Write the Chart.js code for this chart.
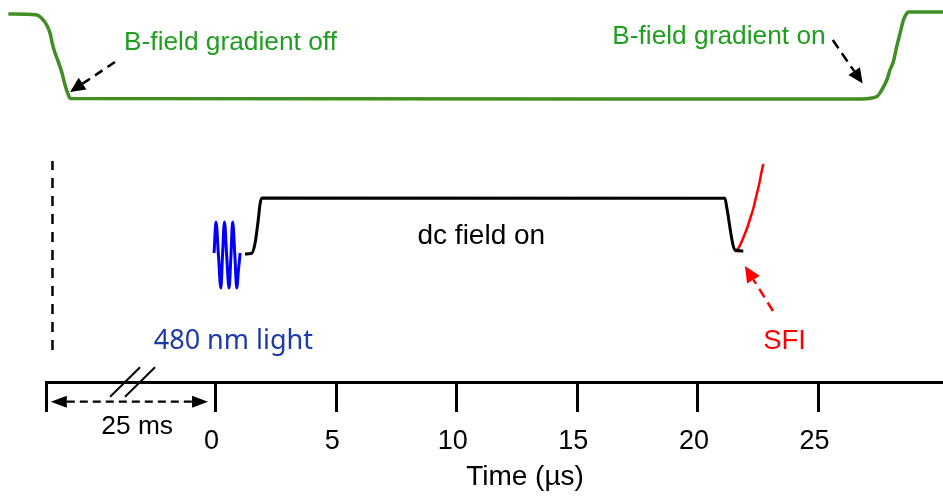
<!DOCTYPE html>
<html><head><meta charset="utf-8">
<script src="https://cdn.jsdelivr.net/npm/chart.js@4/dist/chart.umd.min.js"></script>
<style>html,body{margin:0;padding:0;background:#fff}#wrap{width:943px;height:501px;position:relative}</style>
</head><body><div id="wrap"><canvas id="c"></canvas></div>
<script>
// ---- data (time in µs, level in arbitrary units) ----
const tickValues = [-7, 0, 5, 10, 15, 20, 25];
const tickLabels = ['', '0', '5', '10', '15', '20', '25'];
const axisMin = -7, axisMax = 30.16;

const gradientTime  = [-8.59,-7.41,-7.21,-7.00,-6.86,-6.77,-6.65,-6.52,-6.38,-6.24,-6.10,-6.03,26.79,27.41,27.62,27.83,27.96,28.10,28.24,28.38,28.52,28.66,28.72,30.16];
const gradientLevel = [368,367,363.7,357,348.7,338.7,328.7,320.3,310.3,297,287,283.5,283,285.3,292,302,312,320.3,335.3,348.7,362,368.7,370,370];

const lightTime  = [-0.06,0.02,0.12,0.22,0.29,0.37,0.46,0.56,0.64,0.71,0.80,0.88,0.95,1.02];
const lightLevel = [129,160,127,94,127,160,127,94,127,160,127,94,112,129];

const dcTime  = [1.22,1.50,1.64,1.77,1.85,1.92,21.12,21.19,21.26,21.33,21.40,21.47,21.54,21.88];
const dcLevel = [128,128.7,139,162,178.7,184,183.7,175.3,165.3,153.7,143.7,135.3,132,131];

const sfiTime  = [21.54,21.66,21.79,21.91,22.04,22.16,22.29,22.41,22.54,22.62,22.71];
const sfiLevel = [130,133,139,146,154,163,173,185,198,208,218];

const markerTime  = [-6.76,-6.76];
const markerLevel = [32,221];

const zip = (xs, ys) => xs.map((x, i) => ({x, y: ys[i]}));

// ---- annotations (data coordinates) ----
const FONT = '"Liberation Sans", Arial, sans-serif';
const notes = {
  texts: [
    {text: 'B-field gradient off', x: 0.62, y: 332, color: '#1f9e1f', font: '26.3px ' + FONT},
    {text: 'B-field gradient on', x: 20.87, y: 337.7, color: '#1f9e1f', font: '26.3px ' + FONT},
    {text: 'dc field on', x: 11.02, y: 137.7, color: '#000', font: '28px ' + FONT},
    {text: '480 nm light', x: 0.74, y: 33, color: '#1c3aa9', font: '27px "Noto Sans", sans-serif'},
    {text: 'SFI', x: 23.59, y: 33, color: '#ff0000', font: '27.5px ' + FONT},
    {text: '25 ms', x: -3.25, y: -52, color: '#000', font: '26.3px ' + FONT},
    {text: 'Time (\u00b5s)', x: 12.83, y: -103, color: '#000', font: '28px ' + FONT}
  ],
  arrows: [
    {from: [-4.17, 320], to: [-6.03, 290], color: '#000', width: 2.5, dash: [9, 6], hl: 15, hw: 7},
    {from: [25.59, 342], to: [26.83, 298.5], color: '#000', width: 2.5, dash: [10, 6], hl: 15, hw: 7},
    {from: [23.11, 71], to: [21.95, 116], color: '#ff0000', width: 2.5, dash: [10, 6], hl: 16, hw: 7.5},
    {from: [-6.83, -19.7], to: [-0.31, -19.7], color: '#000', width: 2.2, dash: [8, 5], hl: 16, hw: 6, both: true}
  ],
  lines: [
    {from: [-4.37, -14.7], to: [-3.13, 14.7], color: '#000', width: 2},
    {from: [-3.75, -14.7], to: [-2.51, 14.7], color: '#000', width: 2}
  ]
};

function head(ctx, x, y, ang, hl, hw, color) {
  const ux = Math.cos(ang), uy = Math.sin(ang);
  const bx = x - ux * hl, by = y - uy * hl;
  ctx.fillStyle = color;
  ctx.beginPath();
  ctx.moveTo(x, y);
  ctx.lineTo(bx - uy * hw, by + ux * hw);
  ctx.lineTo(bx + uy * hw, by - ux * hw);
  ctx.closePath();
  ctx.fill();
}

const notesPlugin = {
  id: 'notes',
  afterDatasetsDraw(chart) {
    const ctx = chart.ctx, xs = chart.scales.x, ys = chart.scales.y;
    const px = v => xs.getPixelForValue(v), py = v => ys.getPixelForValue(v);
    ctx.save();
    for (const a of notes.arrows) {
      const x1 = px(a.from[0]), y1 = py(a.from[1]), x2 = px(a.to[0]), y2 = py(a.to[1]);
      const ang = Math.atan2(y2 - y1, x2 - x1), ux = Math.cos(ang), uy = Math.sin(ang);
      const sx = a.both ? x1 + ux * a.hl : x1, sy = a.both ? y1 + uy * a.hl : y1;
      ctx.strokeStyle = a.color; ctx.lineWidth = a.width; ctx.setLineDash(a.dash);
      ctx.beginPath(); ctx.moveTo(sx, sy); ctx.lineTo(x2 - ux * a.hl, y2 - uy * a.hl); ctx.stroke();
      ctx.setLineDash([]);
      head(ctx, x2, y2, ang, a.hl, a.hw, a.color);
      if (a.both) head(ctx, x1, y1, ang + Math.PI, a.hl, a.hw, a.color);
    }
    for (const l of notes.lines) {
      ctx.strokeStyle = l.color; ctx.lineWidth = l.width; ctx.setLineDash([]);
      ctx.beginPath(); ctx.moveTo(px(l.from[0]), py(l.from[1])); ctx.lineTo(px(l.to[0]), py(l.to[1])); ctx.stroke();
    }
    ctx.textAlign = 'center'; ctx.textBaseline = 'alphabetic';
    for (const t of notes.texts) {
      ctx.font = t.font; ctx.fillStyle = t.color;
      ctx.fillText(t.text, px(t.x), py(t.y));
    }
    ctx.restore();
  }
};

const curve = {pointRadius: 0, fill: false, cubicInterpolationMode: 'monotone', clip: false};

new Chart(document.getElementById('c'), {
  type: 'line',
  data: {
    datasets: [
      Object.assign({label: 'B-field gradient', data: zip(gradientTime, gradientLevel), borderColor: '#418f24', borderWidth: 3.5}, curve),
      Object.assign({label: '480 nm light', data: zip(lightTime, lightLevel), borderColor: '#0000ff', borderWidth: 3}, curve),
      Object.assign({label: 'dc field', data: zip(dcTime, dcLevel), borderColor: '#000000', borderWidth: 3}, curve),
      Object.assign({label: 'SFI', data: zip(sfiTime, sfiLevel), borderColor: '#ff0000', borderWidth: 2.5}, curve),
      {label: 'start', data: zip(markerTime, markerLevel), borderColor: '#000000', borderWidth: 2.5, borderDash: [10, 8], pointRadius: 0, tension: 0, fill: false, clip: false}
    ]
  },
  options: {
    responsive: true,
    maintainAspectRatio: false,
    animation: false,
    layout: {padding: {left: 46.7, right: 0, top: 0, bottom: 0}},
    plugins: {legend: {display: false}, tooltip: {enabled: false}},
    scales: {
      x: {
        type: 'linear', bounds: 'data',
        afterBuildTicks: s => { s.min = axisMin; s.max = axisMax; s.ticks = tickValues.map(v => ({value: v})); },
        afterFit: s => { s.height = 119; },
        ticks: {
          autoSkip: false, maxRotation: 0, padding: 13, labelOffset: -4,
          color: '#000', font: {family: FONT, size: 27},
          callback: (v) => { const i = tickValues.indexOf(v); return i >= 0 ? tickLabels[i] : ''; }
        },
        grid: {drawOnChartArea: false, drawTicks: true, tickLength: 30, color: '#000', lineWidth: 3},
        border: {display: true, color: '#000', width: 3},
        title: {display: false}
      },
      y: {type: 'linear', min: 0, max: 382, display: false}
    }
  },
  plugins: [notesPlugin]
});
</script>
</body></html>
